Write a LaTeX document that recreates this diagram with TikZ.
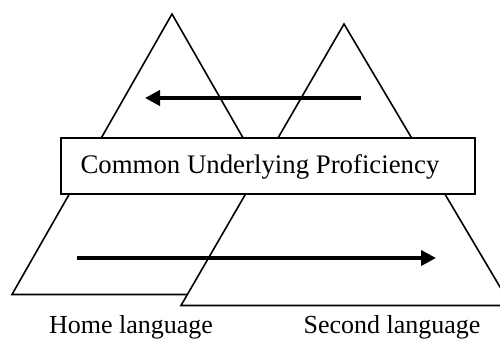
\documentclass[tikz,border=0pt]{standalone}
\usepackage{fontspec}
\setmainfont{Liberation Serif}
\usetikzlibrary{arrows.meta}
\begin{document}
\begin{tikzpicture}[x=1pt,y=-1pt,
  side/.style={line width=1.6pt, line join=miter},
  transfer/.style={line width=3.8pt, -{Triangle[length=15pt,width=15pt]}},
  cupbox/.style={draw, line width=1.6pt, fill=white, minimum width=414pt, minimum height=56pt, inner sep=0pt},
  langlabel/.style={anchor=base, inner sep=0pt, font=\fontsize{26pt}{30pt}\selectfont}]
  \useasboundingbox (0,0) rectangle (500,338);
  \begin{scope}
    \clip (0,0) rectangle (500,338);
    % home-language triangle (only the visible parts)
    \draw[side] (187,294.5) -- (12,294.5) -- (172,14) -- (250,150);
    % second-language triangle
    \draw[side] (181,305.5) -- (344,24) -- (511,305.5) -- cycle;
  \end{scope}
  % transfer arrows
  \coordinate (topstart) at (361,98);
  \coordinate (topend) at (145,98);
  \coordinate (botstart) at (77,258);
  \coordinate (botend) at (436,258);
  \draw[transfer] (topstart) -- (topend);
  \draw[transfer] (botstart) -- (botend);
  % common underlying proficiency box
  \node[cupbox] (cup) at (268,166) {};
  \node[langlabel, font=\fontsize{26.8pt}{30pt}\selectfont] (cuptext) at (260,173.3) {Common Underlying Proficiency};
  % language labels
  \node[langlabel] (home) at (131,333.5) {Home language};
  \node[langlabel] (second) at (392,333.5) {Second language};
\end{tikzpicture}
\end{document}
